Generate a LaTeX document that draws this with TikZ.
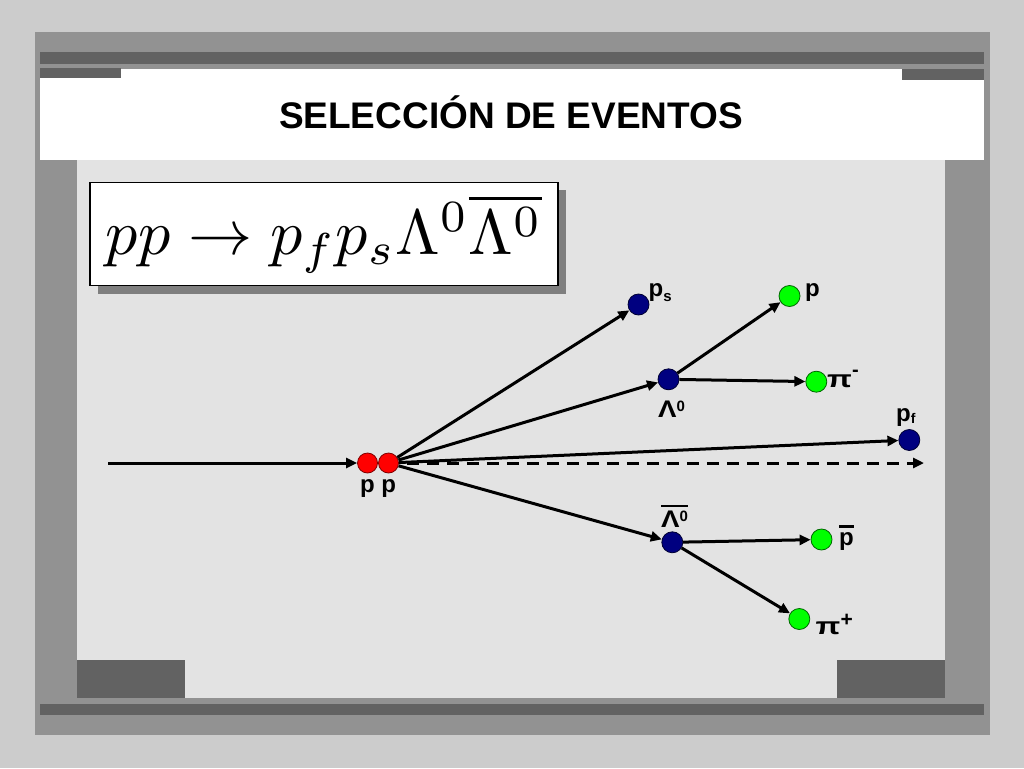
\documentclass[tikz,border=0pt]{standalone}
\usepackage{fontspec}
\setmainfont{Liberation Sans}
\usepackage{graphicx}
\usetikzlibrary{arrows.meta,shadows}
\definecolor{bgout}{HTML}{CCCCCC}
\definecolor{framegray}{HTML}{929292}
\definecolor{darkgray}{HTML}{626262}
\definecolor{contentgray}{HTML}{E3E3E3}
\definecolor{shadowgray}{HTML}{7F7F7F}
\definecolor{navyfill}{HTML}{000080}
\definecolor{navyline}{HTML}{000033}
\definecolor{greenfill}{HTML}{00FF00}
\definecolor{greenline}{HTML}{006600}
\definecolor{redfill}{HTML}{FF0000}
\definecolor{redline}{HTML}{800000}
\newcommand\supx[3]{\raisebox{#2pt}{\fontsize{#1}{#1}\selectfont #3}}
\newcommand\subx[3]{\raisebox{-#2pt}{\fontsize{#1}{#1}\selectfont #3}}
\newcommand\barred[2]{\vbox{\hrule height 2.2pt\kern #1pt\hbox{#2}}}
\newcommand\wpi{\scalebox{1.35}[1]{π}}
\newcommand\wlam{\scalebox{1.15}[1]{Λ}}
\begin{document}
\begin{tikzpicture}[x=1pt,y=-1pt,
  particle/.style={circle, minimum size=21pt, inner sep=0pt, line width=0.8pt},
  bluedot/.style={particle, fill=navyfill, draw=navyline},
  greendot/.style={particle, fill=greenfill, draw=greenline},
  reddot/.style={particle, minimum size=20pt, fill=redfill, draw=redline},
  arr/.style={line width=3pt, -{Triangle[length=11pt,width=10pt]}},
  lab/.style={font=\fontsize{24}{26}\selectfont\bfseries, inner sep=0pt},
  formbox/.style={draw=black, line width=1.3pt, fill=white, inner sep=0pt,
    minimum width=468pt, minimum height=103.4pt,
    drop shadow={shadow xshift=8pt, shadow yshift=-8pt, fill=shadowgray, opacity=1}}]
\useasboundingbox (0,0) rectangle (1024,768);
% slide background
\fill[bgout] (0,0) rectangle (1024,768);
\fill[framegray] (35,32) rectangle (990,735);
\fill[darkgray] (40,52) rectangle (984,64);
\fill[contentgray] (77,160) rectangle (945,698);
\fill[white] (40,69) rectangle (984,160);
\fill[darkgray] (40,68) rectangle (121,78);
\fill[darkgray] (902,69) rectangle (984,80);
\fill[darkgray] (77,660) rectangle (185,698);
\fill[darkgray] (837,660) rectangle (945,698);
\fill[darkgray] (40,704) rectangle (984,715);
% title
\node[font=\fontsize{37}{40}\selectfont\bfseries, anchor=base, inner sep=0pt] (title) at (511,128) {SELECCIÓN DE EVENTOS};
% formula
\node[formbox] (formula) at (324,234)
  {\resizebox{436pt}{60pt}{$pp \rightarrow p_f p_s \Lambda^0 \overline{\Lambda^0}$}};
% particles
\node[reddot] (r1) at (367.5,463) {};
\node[reddot] (r2) at (388.5,463) {};
\node[bluedot] (ps) at (638.5,304.5) {};
\node[greendot] (gp) at (789.5,296) {};
\node[bluedot] (lam) at (668.5,379.3) {};
\node[greendot] (pim) at (816.3,381.7) {};
\node[bluedot] (pf) at (909.3,440) {};
\node[bluedot] (lamb) at (672.3,542.3) {};
\node[greendot] (pbar) at (821.5,539.5) {};
\node[greendot] (pip) at (799.3,619) {};
\coordinate (beamin) at (108,463);
\coordinate (beamout) at (924,463);
% connectors
\draw[arr] (beamin) -- (r1);
\draw[arr, dash pattern=on 12pt off 8pt, dash phase=12pt] (r2) -- (beamout);
\draw[arr] (r2) -- (ps);
\draw[arr] (r2) -- (lam);
\draw[arr] (r2) -- (pf);
\draw[arr] (r2) -- (lamb);
\draw[arr] (lam) -- (gp);
\draw[arr] (lam) -- (pim);
\draw[arr] (lamb) -- (pbar);
\draw[arr] (lamb) -- (pip);
% labels
\node[lab, anchor=base] (lpp) at (378,492.5) {p p};
\node[lab, anchor=base west] (lps) at (648.5,296.5) {p\subx{15}{4.5}{s}};
\node[lab, anchor=base west] (lp) at (805,296) {p};
\node[lab, anchor=base west] (lpim) at (827,387) {\wpi\supx{20}{11}{-}};
\node[lab, anchor=base] (llam) at (671.5,417) {\wlam\supx{15}{6}{0}};
\node[lab, anchor=base west] (lpf) at (896,421.5) {p\subx{14}{1.5}{f}};
\node[lab, anchor=base] (llamb) at (674.5,527) {\barred{3}{\wlam\supx{15}{6}{0}}};
\node[lab, anchor=base west] (lpbar) at (839,545.5) {\barred{5}{p}};
\node[lab, anchor=base west] (lpip) at (815.5,634) {\wpi\supx{21}{8}{+}};
\end{tikzpicture}
\end{document}
